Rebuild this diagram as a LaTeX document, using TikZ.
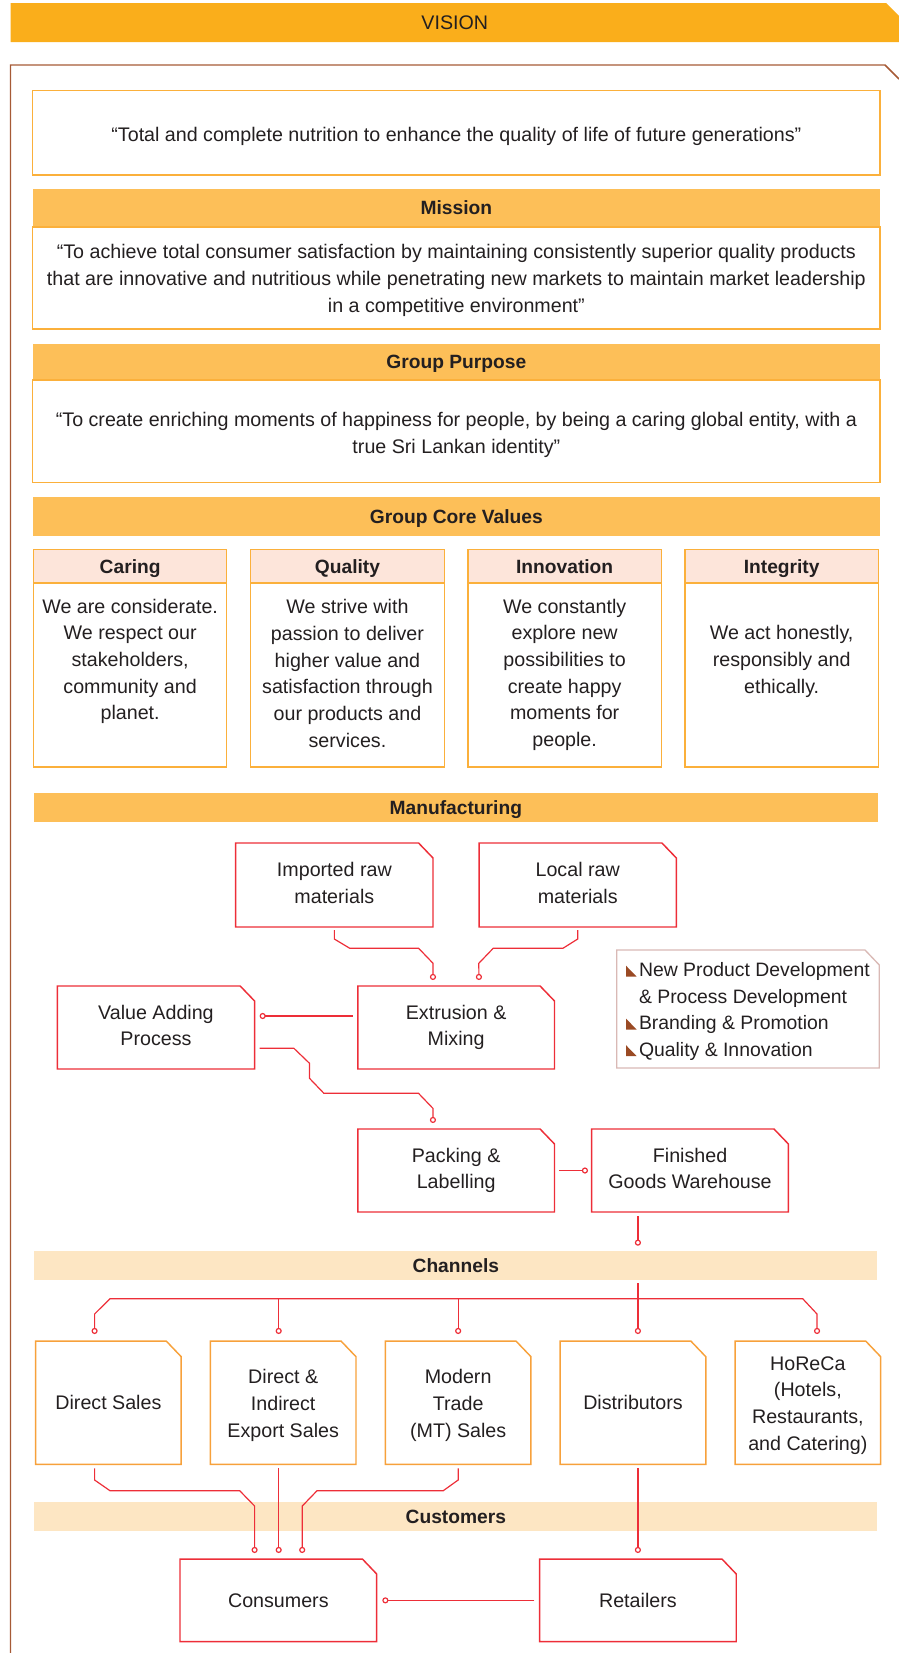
\documentclass[tikz,border=0pt]{standalone}
\usepackage{fontspec}
\setmainfont{Liberation Sans}
\usetikzlibrary{calc,arrows.meta}

\definecolor{visionorange}{HTML}{FAAE1B}
\definecolor{barorange}{HTML}{FDBF58}
\definecolor{rimorange}{HTML}{FBB03B}
\definecolor{peachhead}{HTML}{FDE5DA}
\definecolor{peachbar}{HTML}{FDE6C3}
\definecolor{flowred}{HTML}{ED2E38}
\definecolor{chanorange}{HTML}{F7A13B}
\definecolor{framebrown}{HTML}{A65A35}
\definecolor{legendrim}{HTML}{D9B9B5}
\definecolor{bulletbrown}{HTML}{9A4A24}
\definecolor{ink}{HTML}{231F20}

% outline of a box whose north-east corner is cut off
\newcommand\cutbox[4]{%
  \path[#1] (#2.south west) -- (#2.north west) -- ($(#2.north east)+(-#3,0)$)
    -- ($(#2.north east)+(0,#4)$) -- (#2.south east) -- cycle;}
% invisible descender so that all multi-line labels centre alike
\newcommand\dsc{\vphantom{g}}

\begin{document}
\begin{tikzpicture}[x=0.75pt,y=-0.75pt,
  wh/.style 2 args={minimum width=#1*0.75pt,minimum height=#2*0.75pt},
  every node/.style={inner sep=0pt,outer sep=0pt,text=ink},
  body/.style={font=\fontsize{14.75}{20}\selectfont,align=center},
  head/.style={font=\fontsize{14.4}{20}\selectfont\bfseries,align=center,text height=10.3pt,text depth=0pt},
  legtext/.style={anchor=base west,font=\fontsize{14.55}{20}\selectfont},
  rimbox/.style={draw=rimorange,line width=0.8pt},
  redline/.style={draw=flowred,line width=1.1pt},
  chanline/.style={draw=chanorange,line width=1.1pt},
  conn/.style={draw=flowred,line width=0.9pt,-{Circle[open,length=4.6pt]}},
  conn2/.style={draw=flowred,line width=0.9pt,{Circle[open,length=4.6pt]}-{Circle[open,length=4.6pt]}},
]
\useasboundingbox (0,0) rectangle (899,1653);

% ---------- vision banner and outer frame ----------
\node[wh={888.5}{39}] (visionbar) at (454.75,22.5) {};
\cutbox{fill=visionorange}{visionbar}{13}{13}
\node[body] (visiontitle) at (454.75,22.5) {VISION};
\draw[framebrown,line width=1.1pt] (10.5,1653) -- (10.5,65) -- (885,65) -- (899,79);

% ---------- vision, mission, purpose ----------
\node[rimbox,wh={847.3}{84.4}] (visionbox) at (456.35,132.8) {};
\node[body] (visiontext) at (456.35,136.1) {“Total and complete nutrition to enhance the quality of life of future generations”};

\node[fill=barorange,wh={847.3}{38},head] (missionbar) at (456.35,208) {Mission};
\node[rimbox,wh={847.3}{102}] (missionbox) at (456.35,278) {};
\node[body] (missiontext) at (456.35,280.3) {“To achieve total consumer satisfaction by maintaining consistently superior quality products\\that are innovative and nutritious while penetrating new markets to maintain market leadership\\in a competitive environment”};

\node[fill=barorange,wh={847.3}{36.5},head] (purposebar) at (456.35,361.75) {Group Purpose};
\node[rimbox,wh={847.3}{102.5}] (purposebox) at (456.35,431.25) {};
\node[body] (purposetext) at (456.35,435) {“To create enriching moments of happiness for people, by being a caring global entity, with a\\true Sri Lankan identity”};

% ---------- core values ----------
\node[fill=barorange,wh={847.3}{39},head] (corebar) at (456.35,516.5) {Group Core Values};
\foreach \n/\cx/\ttl in {1/130.15/Caring,2/347.45/Quality,3/564.65/Innovation,4/781.65/Integrity}{
  \node[rimbox,fill=peachhead,wh={193.3}{34},head] (ch\n) at (\cx,566.3) {\ttl};
  \node[rimbox,wh={193.3}{184}] (cb\n) at (\cx,675) {};
}
\node[body] (ct1) at (130.15,661.5) {We are considerate.\\We respect our\\stakeholders,\\community and\\planet.};
\node[body] (ct2) at (347.45,673.5) {We strive with\\passion to deliver\\higher value and\\satisfaction through\\our products and\\services.};
\node[body] (ct3) at (564.65,674.8) {We constantly\\explore new\\possibilities to\\create happy\\moments for\\people.};
\node[body] (ct4) at (781.65,661.5) {We act honestly,\\responsibly and\\ethically.};

% ---------- manufacturing ----------
\node[fill=barorange,wh={844.3}{29},head] (manubar) at (455.85,807.5) {Manufacturing};

\node[wh={197.3}{84},body] (imp) at (334.35,885) {Imported raw\\materials\dsc};
\node[wh={197.3}{84},body] (loc) at (577.7,885) {Local raw\\materials\dsc};
\node[wh={196.7}{83},body] (ext) at (456.15,1027.5) {Extrusion \&\\Mixing};
\node[wh={197.3}{83},body] (val) at (155.95,1027.5) {Value Adding\\Process\dsc};
\node[wh={196.7}{83},body] (pack) at (456.15,1170.5) {Packing \&\\Labelling};
\node[wh={196.7}{83},body] (fgw) at (690.05,1170.5) {Finished\\Goods Warehouse\dsc};
\foreach \b in {imp,loc,ext,val,pack,fgw}{\cutbox{redline}{\b}{14.4}{15}}

\node[wh={262.6}{118}] (legend) at (748,1009) {};
\cutbox{draw=legendrim,line width=1pt}{legend}{14.3}{15}
\node[legtext] (leg1) at (639,976.7) {New Product Development};
\node[legtext] (leg2) at (639,1003.2) {\& Process Development};
\node[legtext] (leg3) at (639,1029.6) {Branding \& Promotion};
\node[legtext] (leg4) at (639,1056.2) {Quality \& Innovation};
\foreach \l in {leg1,leg3,leg4}{
  \fill[bulletbrown] ($(\l.base west)+(-13,0)$) -- ++(10.7,0) -- ++(-10.7,-11) -- cycle;}

% ---------- channels ----------
\node[fill=peachbar,wh={842.9}{29},head] (chan) at (455.85,1265.5) {Channels};
\foreach \b/\cx in {ds/108.4,dx/283.2,mt/458.15,dist/633,hor/807.85}{
  \node[wh={145.6}{123.3}] (\b) at (\cx,1402.65) {};
  \cutbox{chanline}{\b}{15}{15.7}
}
\node[body] (dstext) at (ds) {Direct Sales};
\node[body] (dxtext) at ($(dx)+(0,2.6)$) {Direct \&\\Indirect\\Export Sales};
\node[body] (mttext) at ($(mt)+(0,2.6)$) {Modern\\Trade\\(MT) Sales};
\node[body] (disttext) at (dist) {Distributors};
\node[body] (hortext) at ($(hor)+(0,2.6)$) {HoReCa\\(Hotels,\\Restaurants,\\and Catering)};

% ---------- customers ----------
\node[fill=peachbar,wh={842.9}{29},head] (cust) at (455.85,1516.5) {Customers};
\node[wh={196.7}{82.7},body] (cons) at (278.35,1600.35) {Consumers};
\node[wh={196.7}{82.7},body] (ret) at (637.9,1600.35) {Retailers};
\foreach \b in {cons,ret}{\cutbox{redline}{\b}{14.3}{15}}

% ---------- connectors ----------
\draw[conn] ($(imp.south)+(0,3)$) -- ++(0,9) -- ++(15.5,9.3) -- ++(68.8,0) -- ++(14.4,15) -- ($(ext.north)+(-23.2,-6)$);
\draw[conn] ($(loc.south)+(0,3)$) -- ++(0,9) -- ++(-14.8,9.3) -- ++(-69.7,0) -- ++(-14.4,15) -- ($(ext.north)+(22.8,-6)$);
\draw[conn] ($(ext.west)+(-5,-11.5)$) -- ($(val.east)+(5,-11.5)$);
\draw[conn] ($(val.east)+(5,20.8)$) -- ++(34.3,0) -- ++(15.6,15) -- ++(0,15) -- ++(14.4,15) -- ++(94.6,0) -- ++(14.4,15) -- ($(pack.north)+(-23.2,-6)$);
\draw[conn] ($(pack.east)+(4.5,0)$) -- ($(fgw.west)+(-3.7,0)$);
\draw[conn] ($(fgw.south -| ret.north)+(0,4)$) -- ($(chan.north -| ret.north)+(0,-5.3)$);

\draw[conn] ($(chan.south -| ret.north)+(0,3.3)$) -- ($(dist.north -| ret.north)+(0,-7)$);
\draw[conn2] ($(ds.north)+(-13.8,-7)$) -- ++(0,-20) -- ++(15.4,-15.3) -- ++(692.7,0) -- ++(14.3,15.3) -- ($(hor.north)+(9.2,-7)$);
\draw[conn] ($(dx.north)+(-4.5,-42.3)$) -- ($(dx.north)+(-4.5,-7)$);
\draw[conn] ($(mt.north)+(0,-42.3)$) -- ($(mt.north)+(0,-7)$);

\draw[conn] ($(ds.south)+(-13.8,4)$) -- ++(0,11.7) -- ++(15.4,10.7) -- ++(129.7,0) -- ++(14.9,15.3) -- ($(cons.north)+(-23.75,-6)$);
\draw[conn] ($(dx.south)+(-4.5,4)$) -- ($(cons.north)+(0.35,-6)$);
\draw[conn] ($(mt.south)+(0,4)$) -- ++(0,11.7) -- ++(-14.9,10.7) -- ++(-126.2,0) -- ++(-14.8,15.3) -- ($(cons.north)+(23.85,-6)$);
\draw[conn] ($(dist.south -| ret.north)+(0,4)$) -- ($(ret.north)+(0,-6)$);
\draw[conn] ($(ret.west)+(-5.2,0)$) -- ($(cons.east)+(5.6,0)$);
\end{tikzpicture}
\end{document}
